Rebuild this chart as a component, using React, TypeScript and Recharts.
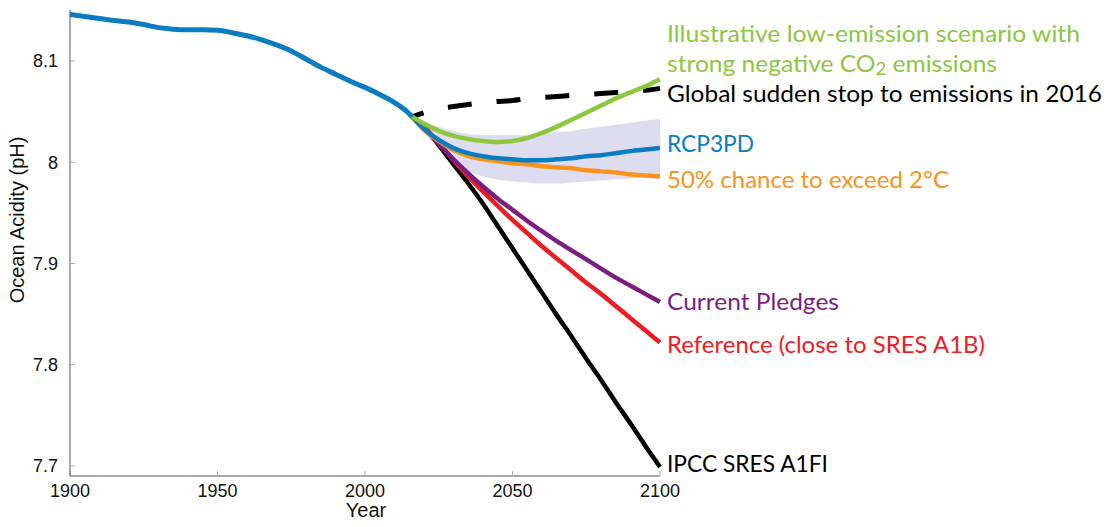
import React from "react";
import { ComposedChart, Line, Area, XAxis, YAxis } from "recharts";

// historic record
const histYears = [
  1900, 1905, 1910, 1915, 1920, 1925, 1930, 1935, 1940, 1945, 1950, 1955,
  1960, 1965, 1970, 1975, 1980, 1985, 1990, 1995, 2000, 2005, 2010, 2015, 2016,
];
const histPh = [
  8.146, 8.144, 8.142, 8.14, 8.1385, 8.136, 8.133, 8.1315, 8.131, 8.131,
  8.1305, 8.128, 8.125, 8.121, 8.116, 8.11, 8.102, 8.094, 8.087, 8.08, 8.074,
  8.067, 8.059, 8.048, 8.045,
];

// scenarios
const scenYears = [
  2016, 2020, 2025, 2030, 2035, 2040, 2045, 2050, 2055, 2060, 2065, 2070,
  2075, 2080, 2085, 2090, 2095, 2100,
];
const suddenStop = [
  8.045, 8.049, 8.053, 8.055, 8.057, 8.059, 8.06, 8.061, 8.063, 8.064, 8.065,
  8.066, 8.067, 8.068, 8.069, 8.07, 8.071, 8.073,
];
const lowEmission = [
  8.045, 8.038, 8.031, 8.026, 8.023, 8.021, 8.02, 8.021, 8.024, 8.029, 8.035,
  8.042, 8.049, 8.056, 8.063, 8.069, 8.075, 8.082,
];
const rcp3pd = [
  8.045, 8.033, 8.022, 8.014, 8.009, 8.006, 8.004, 8.003, 8.002, 8.002, 8.003,
  8.004, 8.006, 8.007, 8.009, 8.011, 8.0125, 8.014,
];
const exceed2C = [
  8.045, 8.032, 8.021, 8.012, 8.006, 8.003, 8.001, 7.999, 7.998, 7.996, 7.995,
  7.994, 7.992, 7.991, 7.99, 7.988, 7.987, 7.986,
];
const pledges = [
  8.045, 8.034, 8.018, 8.003, 7.989, 7.976, 7.964, 7.953, 7.942, 7.932, 7.922,
  7.913, 7.904, 7.895, 7.886, 7.878, 7.87, 7.862,
];
const reference = [
  8.045, 8.035, 8.019, 8.002, 7.986, 7.971, 7.957, 7.943, 7.93, 7.917, 7.905,
  7.893, 7.881, 7.87, 7.858, 7.846, 7.834, 7.822,
];
const a1fi = [
  8.045, 8.035, 8.017, 7.998, 7.979, 7.959, 7.937, 7.915, 7.893, 7.871, 7.849,
  7.828, 7.806, 7.785, 7.763, 7.742, 7.72, 7.699,
];
const bandLow = [
  8.045, 8.03, 8.013, 7.999, 7.991, 7.986, 7.983, 7.981, 7.98, 7.979, 7.979,
  7.98, 7.981, 7.982, 7.983, 7.984, 7.985, 7.986,
];
const bandHigh = [
  8.045, 8.04, 8.035, 8.031, 8.028, 8.027, 8.027, 8.027, 8.027, 8.028, 8.03,
  8.031, 8.033, 8.035, 8.037, 8.039, 8.041, 8.043,
];

const xTicks = [1900, 1950, 2000, 2050, 2100];
const yTicks = [7.7, 7.8, 7.9, 8, 8.1];

const BLUE = "#0a7cc2";
const GREEN = "#8dc63f";
const ORANGE = "#f7941d";
const PURPLE = "#7b1f7e";
const RED = "#ed1c24";

// merge everything into one table keyed by year
const allYears = Array.from(new Set([...histYears, ...scenYears])).sort(
  (a, b) => a - b
);
const data = allYears.map((year) => {
  const h = histYears.indexOf(year);
  const s = scenYears.indexOf(year);
  return {
    year,
    hist: h >= 0 ? histPh[h] : null,
    stop: s >= 0 ? suddenStop[s] : null,
    low: s >= 0 ? lowEmission[s] : null,
    rcp: s >= 0 ? rcp3pd[s] : null,
    exceed: s >= 0 ? exceed2C[s] : null,
    pledges: s >= 0 ? pledges[s] : null,
    reference: s >= 0 ? reference[s] : null,
    a1fi: s >= 0 ? a1fi[s] : null,
    band: s >= 0 ? [bandLow[s], bandHigh[s]] : null,
  };
});

const labelFont = "Lato, 'Open Sans', sans-serif";
const axisFont = "'Liberation Sans', Arial, Helvetica, sans-serif";

const annotations = [
  { text: "Illustrative low-emission scenario with", y: 41.7, color: GREEN, w: 413 },
  { text: "Global sudden stop to emissions in 2016", y: 101.7, color: "#000", w: 435 },
  { text: "RCP3PD", y: 151.7, color: BLUE, w: 87 },
  { text: "50% chance to exceed 2°C", y: 188.3, color: ORANGE, w: 282 },
  { text: "Current Pledges", y: 310, color: PURPLE, w: 172 },
  { text: "Reference (close to SRES A1B)", y: 352.7, color: RED, w: 318 },
  { text: "IPCC SRES A1FI", y: 471.7, color: "#000", w: 161 },
];

export default function App() {
  return (
    <div style={{ position: "absolute", left: 0, top: 0, width: 1107, height: 527, background: "#fff" }}>
      <ComposedChart
        width={1107}
        height={527}
        data={data}
        margin={{ top: 10, right: 447, bottom: 0, left: 10 }}
      >
        <XAxis
          dataKey="year"
          type="number"
          domain={[1900, 2100]}
          ticks={xTicks}
          height={51}
          axisLine={{ stroke: "#555" }}
          tickLine={{ stroke: "#aaa" }}
          tickSize={-5}
          tickMargin={13}
          tick={{ fill: "#111", fontSize: 18, fontFamily: axisFont }}
        />
        <YAxis
          type="number"
          domain={[7.6901, 8.1504]}
          ticks={yTicks}
          width={60}
          allowDataOverflow
          axisLine={{ stroke: "#555" }}
          tickLine={{ stroke: "#aaa" }}
          tickSize={-5}
          tickMargin={17}
          tick={{ fill: "#111", fontSize: 18, fontFamily: axisFont }}
        />
        <Area
          dataKey="band"
          type="monotone"
          fill="#dedcef"
          fillOpacity={1}
          stroke="none"
          connectNulls
          isAnimationActive={false}
        />
        <Line dataKey="a1fi" type="monotone" stroke="#000" strokeWidth={4.5} dot={false} connectNulls isAnimationActive={false} />
        <Line dataKey="reference" type="monotone" stroke={RED} strokeWidth={4.5} dot={false} connectNulls isAnimationActive={false} />
        <Line dataKey="pledges" type="monotone" stroke={PURPLE} strokeWidth={4.5} dot={false} connectNulls isAnimationActive={false} />
        <Line dataKey="exceed" type="monotone" stroke={ORANGE} strokeWidth={4.5} dot={false} connectNulls isAnimationActive={false} />
        <Line dataKey="rcp" type="monotone" stroke={BLUE} strokeWidth={4.5} dot={false} connectNulls isAnimationActive={false} />
        <Line
          dataKey="stop"
          type="monotone"
          stroke="#000"
          strokeWidth={5}
          strokeDasharray="24 25"
          strokeDashoffset={12}
          dot={false}
          connectNulls
          isAnimationActive={false}
        />
        <Line dataKey="low" type="monotone" stroke={GREEN} strokeWidth={4.5} dot={false} connectNulls isAnimationActive={false} />
        <Line dataKey="hist" type="monotone" stroke={BLUE} strokeWidth={5} dot={false} connectNulls isAnimationActive={false} />
      </ComposedChart>

      {/* axis titles and scenario labels */}
      <svg
        width={1107}
        height={527}
        style={{ position: "absolute", left: 0, top: 0, pointerEvents: "none" }}
      >
        <text
          x={24}
          y={220}
          transform="rotate(-90 24 220)"
          textAnchor="middle"
          fontSize={20}
          fontFamily={axisFont}
          fill="#111"
        >
          Ocean Acidity (pH)
        </text>
        <text x={366} y={517} textAnchor="middle" fontSize={20} fontFamily={axisFont} fill="#111">
          Year
        </text>
        {annotations.map((a) => (
          <text
            key={a.text}
            x={667}
            y={a.y}
            fontSize={24}
            fontFamily={labelFont}
            fill={a.color}
            textLength={a.w}
            lengthAdjust="spacingAndGlyphs"
          >
            {a.text}
          </text>
        ))}
        <text
          x={667}
          y={71.7}
          fontSize={24}
          fontFamily={labelFont}
          fill={GREEN}
          textLength={330}
          lengthAdjust="spacingAndGlyphs"
        >
          strong negative CO
          <tspan fontSize={18} dy={3}>2</tspan>
          <tspan dy={-3}> emissions</tspan>
        </text>
      </svg>
    </div>
  );
}
